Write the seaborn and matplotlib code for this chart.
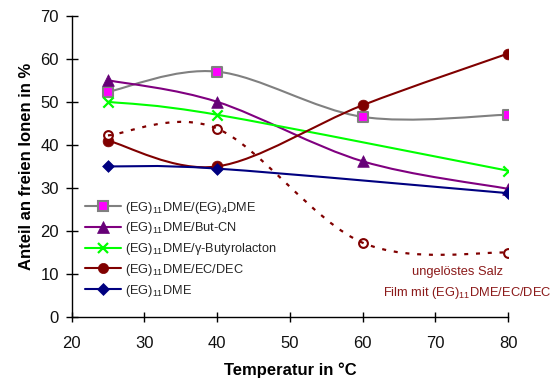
import numpy as np
import matplotlib
matplotlib.use("Agg")
import matplotlib.pyplot as plt
from matplotlib.path import Path
from matplotlib.patches import PathPatch
from matplotlib.lines import Line2D
import seaborn as sns

# --- data -------------------------------------------------------------
temp_4pt = [25, 40, 60, 80]
temp_3pt = [25, 40, 80]

anteil_eg4dme = [52.3, 57.0, 46.5, 47.0]       # (EG)11DME/(EG)4DME
anteil_butcn = [55.0, 50.0, 36.2, 29.8]        # (EG)11DME/But-CN
anteil_butyrolacton = [50.0, 47.0, 34.0]       # (EG)11DME/γ-Butyrolacton
anteil_ecdec = [41.0, 35.0, 49.2, 61.2]        # (EG)11DME/EC/DEC
anteil_eg11dme = [35.0, 34.5, 28.8]            # (EG)11DME
anteil_film_salz = [42.2, 43.8, 17.3, 15.0]    # Film, ungelöstes Salz

labels = [
    "(EG)$_{11}$DME/(EG)$_{4}$DME",
    "(EG)$_{11}$DME/But-CN",
    "(EG)$_{11}$DME/\u03b3-Butyrolacton",
    "(EG)$_{11}$DME/EC/DEC",
    "(EG)$_{11}$DME",
]
annot_lines = ["ungelöstes Salz", "Film mit (EG)$_{11}$DME/EC/DEC"]

# --- style ------------------------------------------------------------
sns.set_theme(style="white")
plt.rcParams["font.family"] = ["Liberation Sans", "DejaVu Sans"]
plt.rcParams["mathtext.default"] = "regular"
plt.rcParams["axes.unicode_minus"] = False


def smooth_path(x, y):
    """Bezier path through the points with Catmull-Rom style tangents."""
    p = np.column_stack([x, y]).astype(float)
    n = len(p)
    verts = [p[0]]
    codes = [Path.MOVETO]
    for i in range(n - 1):
        prev_pt = p[i - 1] if i > 0 else p[i]
        next_pt = p[i + 2] if i + 2 < n else p[i + 1]
        c1 = p[i] + (p[i + 1] - prev_pt) / 6.0
        c2 = p[i + 1] - (next_pt - p[i]) / 6.0
        verts += [c1, c2, p[i + 1]]
        codes += [Path.CURVE4] * 3
    return Path(verts, codes)


fig = plt.figure(figsize=(5.59, 3.80), dpi=100)
ax = fig.add_axes([0.128, 0.165, 0.781, 0.794])

series = [
    dict(x=temp_4pt, y=anteil_eg4dme, color="#808080", marker="s", fc="#FF00FF",
         ec="#808080", s=48, lw_m=1.5),
    dict(x=temp_4pt, y=anteil_butcn, color="#800080", marker="^", fc="#660077",
         ec="#660077", s=70, lw_m=0.5),
    dict(x=temp_3pt, y=anteil_butyrolacton, color="#00FF00", marker="x", fc="#00FF00",
         ec="#00FF00", s=55, lw_m=1.6),
    dict(x=temp_4pt, y=anteil_ecdec, color="#800000", marker="o", fc="#800000",
         ec="#800000", s=60, lw_m=0.5),
    dict(x=temp_3pt, y=anteil_eg11dme, color="#000080", marker="D", fc="#000080",
         ec="#000080", s=36, lw_m=0.5),
]

for k, sd in enumerate(series):
    ax.add_patch(PathPatch(smooth_path(sd["x"], sd["y"]), facecolor="none",
                           edgecolor=sd["color"], lw=1.5, zorder=2 + k * 0.1))
for k, sd in enumerate(series):
    if sd["marker"] == "x":
        sns.scatterplot(x=sd["x"], y=sd["y"], marker="x", s=sd["s"], color=sd["fc"],
                        linewidth=sd["lw_m"], ax=ax, zorder=4, legend=False)
    else:
        sns.scatterplot(x=sd["x"], y=sd["y"], marker=sd["marker"], s=sd["s"],
                        color=sd["fc"], edgecolor=sd["ec"], linewidth=sd["lw_m"],
                        ax=ax, zorder=4, legend=False)

# film with undissolved salt: open circles, dotted smooth curve
sns.scatterplot(x=temp_4pt, y=anteil_film_salz, marker="o", s=40, color="white",
                edgecolor="#800000", linewidth=1.5, ax=ax, zorder=4, legend=False)
ax.add_patch(PathPatch(smooth_path(temp_4pt, anteil_film_salz), facecolor="none",
                       edgecolor="#800000", lw=1.6, linestyle=(0, (1.8, 3.5)),
                       zorder=5))

# --- axes -------------------------------------------------------------
ax.set_xlim(20, 80)
ax.set_ylim(0, 70)
ax.set_xticks(range(20, 81, 10))
ax.set_yticks(range(0, 71, 10))
for side in ("top", "right"):
    ax.spines[side].set_visible(False)
for side in ("left", "bottom"):
    ax.spines[side].set_color("black")
    ax.spines[side].set_linewidth(1.0)
ax.tick_params(axis="y", direction="inout", length=8, width=1, color="black",
               labelsize=12, pad=5, left=True)
ax.tick_params(axis="x", direction="inout", length=7, width=1, color="black",
               labelsize=12, pad=10, bottom=True)
for lab in ax.get_xticklabels() + ax.get_yticklabels():
    lab.set_color("#111111")

ax.set_xlabel("Temperatur in °C", fontsize=12, fontweight="bold", color="black")
ax.set_ylabel("Anteil an freien Ionen in %", fontsize=12, fontweight="bold",
              color="black")
ax.xaxis.set_label_coords(0.5, -0.148)
ax.yaxis.set_label_coords(-0.086, 0.5)

# --- legend -----------------------------------------------------------
handles = [
    Line2D([], [], color=sd["color"], lw=1.5, marker=sd["marker"],
           markerfacecolor=sd["fc"], markeredgecolor=sd["ec"],
           markersize=np.sqrt(sd["s"]) * 0.95, markeredgewidth=sd["lw_m"])
    for sd in series
]
ax.legend(handles, labels, loc="upper left", bbox_to_anchor=(0.031, 0.39),
          frameon=False, fontsize=9.2, handlelength=2.8, handletextpad=0.3,
          labelspacing=0.37, borderaxespad=0, borderpad=0)

# --- annotation ---------------------------------------------------------
ax.text(73.0, 10.5, annot_lines[0], color="#8B1A1A", fontsize=9.3,
        ha="center", va="center")
ax.text(74.4, 5.6, annot_lines[1], color="#8B1A1A", fontsize=9.3,
        ha="center", va="center", clip_on=False)

fig.savefig("out.png", dpi=100)
